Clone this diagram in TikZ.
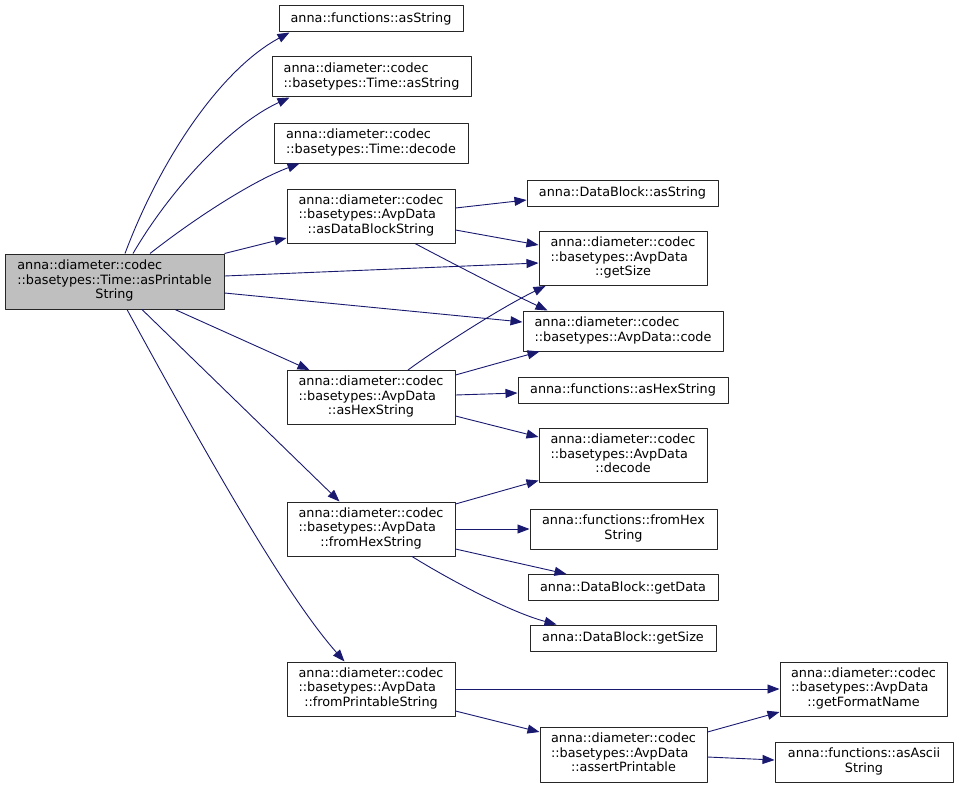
\documentclass[tikz,border=0pt]{standalone}
\usepackage{fontspec}
\setmainfont{DejaVu Sans}
\usetikzlibrary{arrows.meta}
\definecolor{edgeblue}{HTML}{191970}
\definecolor{rootgrey}{HTML}{BFBFBF}
\newcommand{\twol}[2]{\begin{tabular}{@{}l@{}}#1\\\multicolumn{1}{@{}c@{}}{#2}\end{tabular}}
\newcommand{\threel}[3]{\begin{tabular}{@{}l@{}}#1\\#2\\\multicolumn{1}{@{}c@{}}{#3}\end{tabular}}
\begin{document}
\begin{tikzpicture}[x=1pt,y=-1pt,
				line join = round,>={Triangle[length=12pt,width=9pt]},
				fnbox/.style={rectangle,draw = black!85,line width=1pt,fill = white,inner sep = 0pt,
					font=\fontsize{12.8}{14.5}\selectfont},
				rootbox/.style={fnbox,fill = rootgrey},
				call/.style={edgeblue,line width=0.9pt}]
				\useasboundingbox (0,0) rectangle (957,789);
				\node at (114.5,281.5) (nodeRoot) [rootbox, minimum width=219pt, minimum height=55pt] {\threel{anna::diameter::codec}{::basetypes::Time::asPrintable}{String}};
				\node at (371,19) (nodeFAsStr) [fnbox, minimum width=184pt, minimum height=26pt] {anna::functions::asString};
				\node at (371.5,77) (nodeTAsStr) [fnbox, minimum width=199pt, minimum height=40pt] {\twol{anna::diameter::codec}{::basetypes::Time::asString}};
				\node at (371,143) (nodeTDecode) [fnbox, minimum width=194pt, minimum height=40pt] {\twol{anna::diameter::codec}{::basetypes::Time::decode}};
				\node at (371,216) (nodeDBStr) [fnbox, minimum width=168pt, minimum height=54pt] {\threel{anna::diameter::codec}{::basetypes::AvpData}{::asDataBlockString}};
				\node at (622.5,193) (nodeBAsStr) [fnbox, minimum width=191pt, minimum height=26pt] {anna::DataBlock::asString};
				\node at (623,258.5) (nodeGetSize) [fnbox, minimum width=168pt, minimum height=54pt] {\threel{anna::diameter::codec}{::basetypes::AvpData}{::getSize}};
				\node at (623,331) (nodeCode) [fnbox, minimum width=200pt, minimum height=40pt] {\twol{anna::diameter::codec}{::basetypes::AvpData::code}};
				\node at (371,397.5) (nodeHexStr) [fnbox, minimum width=168pt, minimum height=54pt] {\threel{anna::diameter::codec}{::basetypes::AvpData}{::asHexString}};
				\node at (623,390) (nodeFHexStr) [fnbox, minimum width=210pt, minimum height=26pt] {anna::functions::asHexString};
				\node at (623,455.5) (nodeDecode) [fnbox, minimum width=168pt, minimum height=54pt] {\threel{anna::diameter::codec}{::basetypes::AvpData}{::decode}};
				\node at (371,529) (nodeFromHex) [fnbox, minimum width=168pt, minimum height=54pt] {\threel{anna::diameter::codec}{::basetypes::AvpData}{::fromHexString}};
				\node at (623.5,529) (nodeFFromHex) [fnbox, minimum width=187pt, minimum height=40pt] {\twol{anna::functions::fromHex}{String}};
				\node at (623,587.5) (nodeBGetData) [fnbox, minimum width=190pt, minimum height=26pt] {anna::DataBlock::getData};
				\node at (623,638) (nodeBGetSize) [fnbox, minimum width=186pt, minimum height=26pt] {anna::DataBlock::getSize};
				\node at (371,689) (nodeFromPrt) [fnbox, minimum width=168pt, minimum height=54pt] {\threel{anna::diameter::codec}{::basetypes::AvpData}{::fromPrintableString}};
				\node at (863.5,689) (nodeFmtName) [fnbox, minimum width=167pt, minimum height=54pt] {\threel{anna::diameter::codec}{::basetypes::AvpData}{::getFormatName}};
				\node at (623.5,754.5) (nodeAssert) [fnbox, minimum width=167pt, minimum height=55pt] {\threel{anna::diameter::codec}{::basetypes::AvpData}{::assertPrintable}};
				\node at (864,762) (nodeFAscii) [fnbox, minimum width=178pt, minimum height=40pt] {\twol{anna::functions::asAscii}{String}};
				% calls from the root
				\draw[call,->] ([xshift=10.5pt]nodeRoot.north) .. controls (160,160) and (220,70) .. ([xshift=11pt]nodeFAsStr.south west);
				\draw[call,->] ([xshift=18.5pt]nodeRoot.north) .. controls (170,190) and (230,125) .. ([xshift=18pt]nodeTAsStr.south west);
				\draw[call,->] ([xshift=35.5pt]nodeRoot.north) .. controls (190,222) and (250,182) .. ([xshift=26pt]nodeTDecode.south west);
				\draw[call,->] (nodeRoot.north east) -- ([yshift=-22pt]nodeDBStr.west);
				\draw[call,->] ([yshift=5.5pt]nodeRoot.east) -- ([yshift=-4.5pt]nodeGetSize.west);
				\draw[call,->] ([yshift=-11.5pt]nodeRoot.east) -- ([yshift=9pt]nodeCode.west);
				\draw[call,->] ([xshift=60.5pt]nodeRoot.south) -- ([xshift=23pt]nodeHexStr.north west);
				\draw[call,->] ([xshift=27.5pt]nodeRoot.south) -- ([xshift=53pt]nodeFromHex.north west);
				\draw[call,->] ([xshift=12.5pt]nodeRoot.south) .. controls (220,480) and (290,600) .. ([xshift=58pt]nodeFromPrt.north west);
				% asDataBlockString
				\draw[call,->] ([yshift=8pt]nodeDBStr.east) -- ([yshift=-7pt]nodeBAsStr.west);
				\draw[call,->] ([yshift=-14pt]nodeDBStr.east) -- ([yshift=13.5pt]nodeGetSize.west);
				\draw[call,->] ([xshift=44pt]nodeDBStr.south) .. controls (450,262) and (500,288) .. ([xshift=25pt]nodeCode.north west);
				% asHexString
				\draw[call,->] ([xshift=37pt]nodeHexStr.north) .. controls (435,350) and (500,308) .. ([xshift=7pt]nodeGetSize.south west);
				\draw[call,->] ([yshift=22.5pt]nodeHexStr.east) -- ([xshift=17pt]nodeCode.south west);
				\draw[call,->] ([yshift=2.5pt]nodeHexStr.east) -- ([yshift=-3pt]nodeFHexStr.west);
				\draw[call,->] ([yshift=-18.5pt]nodeHexStr.east) -- ([yshift=18.5pt]nodeDecode.west);
				% fromHexString
				\draw[call,->] ([yshift=25pt]nodeFromHex.east) -- ([yshift=-25pt]nodeDecode.west);
				\draw[call,->] (nodeFromHex.east) -- (nodeFFromHex.west);
				\draw[call,->] ([yshift=-20pt]nodeFromHex.east) -- ([xshift=39pt]nodeBGetData.north west);
				\draw[call,->] ([xshift=41pt]nodeFromHex.south) .. controls (450,580) and (510,612) .. ([xshift=27pt]nodeBGetSize.north west);
				% fromPrintableString
				\draw[call,->] (nodeFromPrt.east) -- (nodeFmtName.west);
				\draw[call,->] ([yshift=-22pt]nodeFromPrt.east) -- ([yshift=22.5pt]nodeAssert.west);
				\draw[call,->] ([yshift=22.5pt]nodeAssert.east) -- ([yshift=-23pt]nodeFmtName.west);
				\draw[call,->] ([yshift=-2.5pt]nodeAssert.east) -- ([yshift=2pt]nodeFAscii.west);
			\end{tikzpicture}
\end{document}
